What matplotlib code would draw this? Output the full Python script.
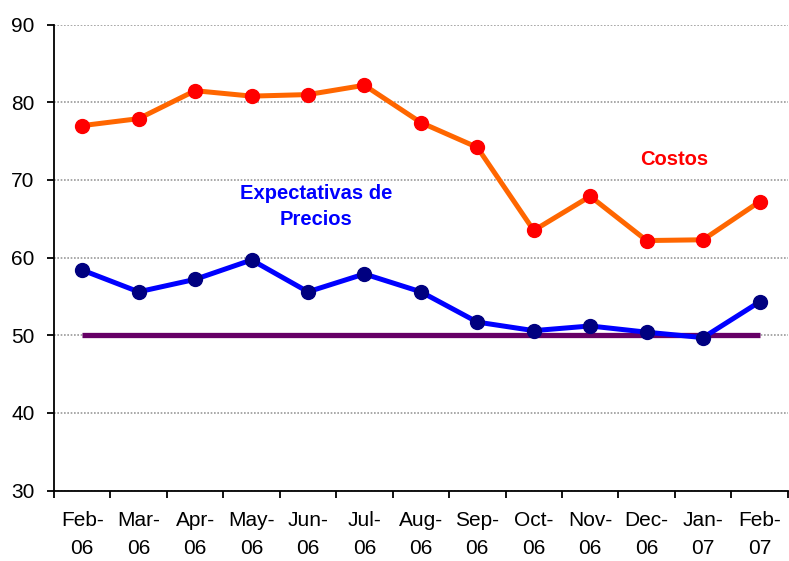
import matplotlib.pyplot as plt
import numpy as np

plt.rcParams['font.family'] = ['Liberation Sans', 'DejaVu Sans']

months = ['Feb-\n06', 'Mar-\n06', 'Apr-\n06', 'May-\n06', 'Jun-\n06', 'Jul-\n06', 'Aug-\n06',
          'Sep-\n06', 'Oct-\n06', 'Nov-\n06', 'Dec-\n06', 'Jan-\n07', 'Feb-\n07']
costos = [77.0, 77.9, 81.5, 80.8, 81.0, 82.2, 77.4, 74.2, 63.5, 67.9, 62.2, 62.3, 67.2]
expectativas = [58.4, 55.6, 57.2, 59.7, 55.6, 57.9, 55.6, 51.7, 50.6, 51.2, 50.4, 49.7, 54.3]
umbral = [50] * len(months)

x = np.arange(len(months)) + 0.5

fig = plt.figure(figsize=(7.89, 5.61), dpi=100)
ax = fig.add_axes([0.0684, 0.1255, 0.93, 0.8305])

ax.plot(x, umbral, color='#660066', linewidth=3.8, solid_capstyle='butt', zorder=2)
ax.plot(x, costos, color='#FF6600', linewidth=3.6, marker='o', markersize=10,
        markerfacecolor='#FF0000', markeredgecolor='#FF0000', zorder=3)
ax.plot(x, expectativas, color='#0000FF', linewidth=3.6, marker='o', markersize=10,
        markerfacecolor='#000080', markeredgecolor='#000080', zorder=3)

ax.text(10.98, 72.6, 'Costos', color='#FF0000', fontsize=14.5, fontweight='bold',
        ha='center', va='center')
ax.text(4.65, 66.6, 'Expectativas de\nPrecios', color='#0000FF', fontsize=14.5, fontweight='bold',
        ha='center', va='center', linespacing=1.5)

ax.set_xlim(0, len(months))
ax.set_ylim(30, 90)
ax.set_yticks(range(30, 91, 10))
ax.set_xticks(range(len(months) + 1))
ax.set_xticklabels([])
ax.set_xticks(x, minor=True)
ax.set_xticklabels(months, minor=True, fontsize=15, linespacing=1.55)
ax.tick_params(axis='x', which='minor', length=0, pad=15)
ax.tick_params(axis='x', which='major', length=5, width=1.3, direction='out')
ax.tick_params(axis='y', length=5, width=1.3, labelsize=15, pad=9)

ax.grid(axis='y', color='#999999', linestyle=(0, (1, 1)), linewidth=1.2)
ax.set_axisbelow(True)
for s in ['top', 'right']:
    ax.spines[s].set_visible(False)
for s in ['left', 'bottom']:
    ax.spines[s].set_linewidth(1.3)

fig.savefig('out.png', dpi=100)
